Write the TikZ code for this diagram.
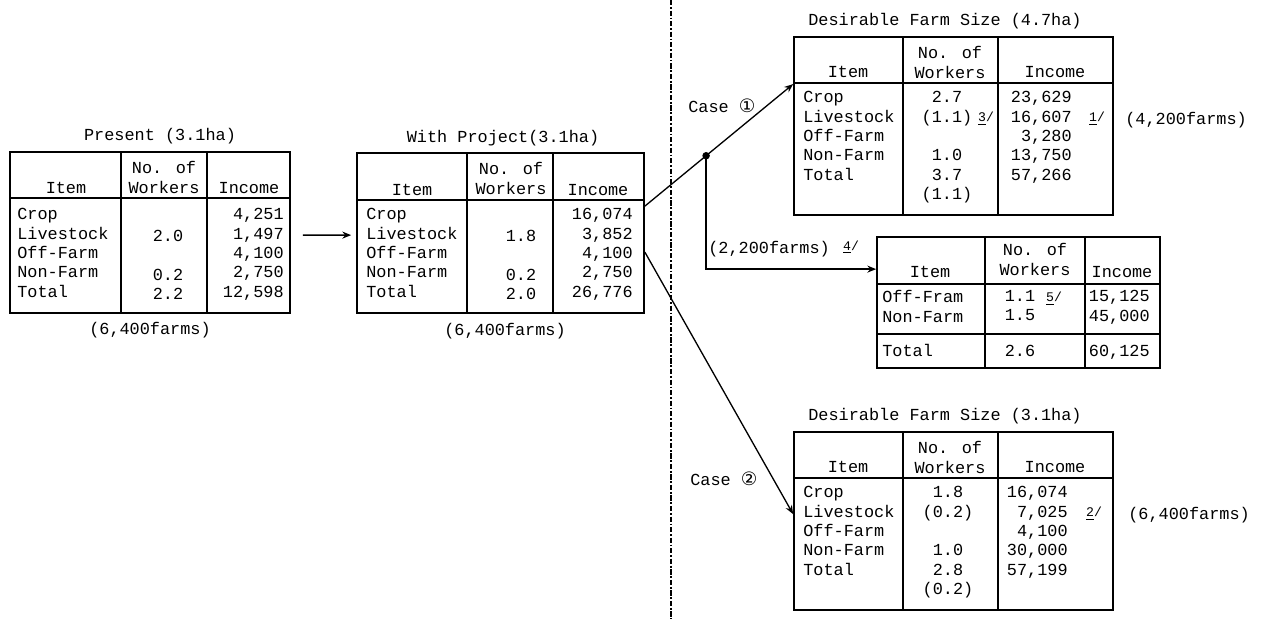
\documentclass[tikz,border=0pt]{standalone}
\usepackage{fontspec}
\setmainfont{Liberation Mono}
\newfontfamily\circfont{DejaVu Sans}
\usepackage{tikz}
\usetikzlibrary{calc,arrows.meta,positioning,fit}

\newcommand{\fnm}[1]{\raisebox{0.3ex}{\fontsize{7.5}{7.5}\selectfont\underline{#1}/}}
\newcommand{\circd}[1]{{\circfont\fontsize{10.5}{11}\selectfont #1}}

\begin{document}
\begin{tikzpicture}[x=0.02cm, y=-0.02cm, every node/.style={font=\fontsize{9.6}{11.06}\selectfont, inner sep=0pt}]
  \tikzset{
    tbl/.style={draw=black, line width=1pt, inner sep=0pt},
    rule/.style={black, line width=0.8pt},
    sep/.style={black, line width=0.8pt, dash pattern=on 3pt off 1pt on 1pt off 1pt},
    itm/.style={align=left, anchor=north west, execute at begin node=\strut},
    wrk/.style={align=center, anchor=north, execute at begin node=\strut},
    inc/.style={align=right, anchor=north east, execute at begin node=\strut},
    cell/.style={anchor=base},
    arr/.style={-{Stealth[length=5pt, width=4pt]}, black, line width=0.75pt},
    dot/.style={circle, fill=black, minimum size=0.15cm}
  }
  \useasboundingbox (0,0) rectangle (1265,619);

  % - Divider ---
  \draw[sep] (671,0) -- (671,619);

  % - Present ---
  \node[cell] (ptitle) at (160,140) {Present (3.1ha)};
  \node[tbl, fit={(10,152) (290,313)}] (pres) {};
  \draw[rule] (121,152) -- (121,313);
  \draw[rule] (207,152) -- (207,313);
  \draw[rule] (10,198) -- (290,198);
  \node[cell] (pitem) at (66,193) {Item};
  \node[wrk] (pwork) at (164,161) {No. of\\Workers};
  \node[cell] (pinc) at (249,193) {Income};
  \node[itm] (prows) at (17,208) {Crop\\Livestock\\Off-Farm\\Non-Farm\\Total};
  \node[wrk] (pwval) at (168,208) {\strut\\2.0\\\strut\\0.2\\2.2};
  \node[inc] (pival) at (284,208) {4,251\\1,497\\4,100\\2,750\\12,598};
  \node[cell] (pfarm) at (150,334) {(6,400farms)};

  % - With Project ---
  \node[cell] (wtitle) at (503,142) {With Project(3.1ha)};
  \node[tbl, fit={(357,153) (644,313)}] (wp) {};
  \draw[rule] (467,153) -- (467,313);
  \draw[rule] (553,153) -- (553,313);
  \draw[rule] (357,200) -- (644,200);
  \node[cell] (witem) at (412,195) {Item};
  \node[wrk] (wwork) at (511,162) {No. of\\Workers};
  \node[cell] (winc) at (598,195) {Income};
  \node[itm] (wrows) at (366,208) {Crop\\Livestock\\Off-Farm\\Non-Farm\\Total};
  \node[wrk] (wwval) at (521,208) {\strut\\1.8\\\strut\\0.2\\2.0};
  \node[inc] (wival) at (633,208) {16,074\\3,852\\4,100\\2,750\\26,776};
  \node[cell] (wfarm) at (505,335) {(6,400farms)};

  % - Desirable Farm Size (4.7ha) ---
  \node[cell] (atitle) at (945,25) {Desirable Farm Size (4.7ha)};
  \node[tbl, fit={(794,37) (1113,215)}] (da) {};
  \draw[rule] (903,37) -- (903,215);
  \draw[rule] (998,37) -- (998,215);
  \draw[rule] (794,83) -- (1113,83);
  \node[cell] (aitem) at (848,77) {Item};
  \node[wrk] (awork) at (950,46) {No. of\\Workers};
  \node[cell] (ainc) at (1055,77) {Income};
  \node[itm] (arows) at (803,91) {Crop\\Livestock\\Off-Farm\\Non-Farm\\Total};
  \node[wrk] (awval) at (947,91) {2.7\\(1.1)\\\strut\\1.0\\3.7\\(1.1)};
  \node[inc] (aival) at (1072,91) {23,629\\16,607\\3,280\\13,750\\57,266};
  \node[cell] (am3) at (986,124.5) {\fnm{3}};
  \node[cell] (am1) at (1097,124.5) {\fnm{1}};
  \node[cell, anchor=base west] (afarm) at (1125,124.5) {(4,200farms)};

  % - Off-farm households ---
  \node[tbl, fit={(877,237) (1160,368)}] (db) {};
  \draw[rule] (985,237) -- (985,368);
  \draw[rule] (1085,237) -- (1085,368);
  \draw[rule] (877,284) -- (1160,284);
  \draw[rule] (877,334) -- (1160,334);
  \node[cell] (bitem) at (930,277) {Item};
  \node[wrk] (bwork) at (1035,243) {No. of\\Workers};
  \node[cell] (binc) at (1122,277) {Income};
  \node[itm] (brows) at (882,290) {Off-Fram\\Non-Farm};
  \node[wrk] (bwval) at (1020,290) {1.1\\1.5};
  \node[inc] (bival) at (1150,290) {15,125\\45,000};
  \node[cell] (bm5) at (1054,304) {\fnm{5}};
  \node[cell, anchor=base west] (btot) at (882,356) {Total};
  \node[cell] (btw) at (1020,356) {2.6};
  \node[cell, anchor=base east] (bti) at (1150,356) {60,125};
  \node[cell, anchor=base west] (bfarm) at (708,253) {(2,200farms)};
  \node[cell] (bm4) at (851,253) {\fnm{4}};

  % - Desirable Farm Size (3.1ha) ---
  \node[cell] (ctitle) at (945,420) {Desirable Farm Size (3.1ha)};
  \node[tbl, fit={(794,432) (1113,610)}] (dc) {};
  \draw[rule] (903,432) -- (903,610);
  \draw[rule] (998,432) -- (998,610);
  \draw[rule] (794,478) -- (1113,478);
  \node[cell] (citem) at (848,472) {Item};
  \node[wrk] (cwork) at (950,441) {No. of\\Workers};
  \node[cell] (cinc) at (1055,472) {Income};
  \node[itm] (crows) at (803,486) {Crop\\Livestock\\Off-Farm\\Non-Farm\\Total};
  \node[wrk] (cwval) at (948,486) {1.8\\(0.2)\\\strut\\1.0\\2.8\\(0.2)};
  \node[inc] (cival) at (1068,486) {16,074\\7,025\\4,100\\30,000\\57,199};
  \node[cell] (cm2) at (1094,519.5) {\fnm{2}};
  \node[cell, anchor=base west] (cfarm) at (1128,519.5) {(6,400farms)};

  % - Cases ---
  \node[cell, anchor=base west] (case1) at (688,112) {Case \circd{①}};
  \node[cell, anchor=base west] (case2) at (690,485) {Case \circd{②}};

  % - Arrows ---
  \draw[arr, shorten <=0.24cm, shorten >=0.1cm] ($(pres.north east)+(0,84)$) -- ($(wp.north west)+(0,83)$);
  \draw[arr] ($(wp.north east)+(0,54)$) -- coordinate[pos=0.413] (jn) ($(da.north west)+(0,48)$);
  \node[dot] (jdot) at (jn) {};
  \draw[arr] (jdot.center) |- ($(db.north west)+(0,33)$);
  \draw[arr] ($(wp.north east)+(0,100)$) -- ($(dc.north west)+(0,83)$);

\end{tikzpicture}
\end{document}
